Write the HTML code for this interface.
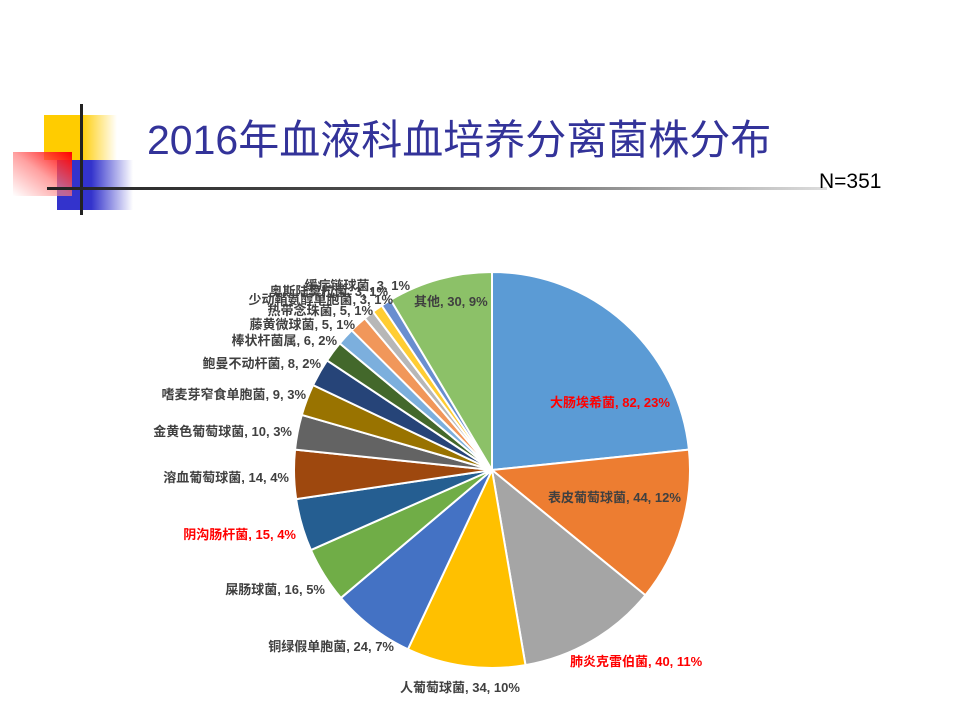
<!DOCTYPE html>
<html><head><meta charset="utf-8"><style>
body{margin:0;width:960px;height:720px;background:#fff;overflow:hidden;position:relative;font-family:"Liberation Sans","Noto Sans CJK SC",sans-serif}
</style></head><body>
<div>
<div style="position:absolute;left:44px;top:115px;width:73px;height:45px;background:linear-gradient(to right,#FFCC00 0%,#FFCC00 50%,rgba(255,204,0,0) 100%)"></div>
<div style="position:absolute;left:57px;top:160px;width:76px;height:50px;background:linear-gradient(to right,#3333CC 0%,#3333CC 45%,rgba(51,51,204,0) 100%)"></div>
<div style="position:absolute;left:13px;top:152px;width:59px;height:44px;background:linear-gradient(to bottom left,#FF0000 0%,rgba(255,120,120,0.7) 50%,rgba(255,255,255,0.4) 100%)"></div>
<div style="position:absolute;left:80px;top:104px;width:3px;height:111px;background:#222"></div>
<div style="position:absolute;left:47px;top:187px;width:780px;height:3px;background:linear-gradient(to right,#222,#555 50%,#ddd)"></div>
</div>
<div style="position:absolute;left:147px;top:106px;font-size:41px;color:#333399;font-family:'Liberation Sans','Noto Sans CJK SC',sans-serif;white-space:nowrap">2016年血液科血培养分离菌株分布</div>
<div style="position:absolute;left:819px;top:170px;font-size:21px;color:#000">N=351</div>
<svg id="pie" width="960" height="720" style="position:absolute;left:0;top:0"></svg>
<script>
const categories=["大肠埃希菌","表皮葡萄球菌","肺炎克雷伯菌","人葡萄球菌","铜绿假单胞菌","屎肠球菌","阴沟肠杆菌","溶血葡萄球菌","金黄色葡萄球菌","嗜麦芽窄食单胞菌","鲍曼不动杆菌","棒状杆菌属","藤黄微球菌","热带念珠菌","少动鞘氨醇单胞菌","奥斯陆莫拉菌","缓症链球菌","其他"];
const counts=[82,44,40,34,24,16,15,14,10,9,8,6,5,5,3,3,3,30];
const percents=["23%","12%","11%","10%","7%","5%","4%","4%","3%","3%","2%","2%","1%","1%","1%","1%","1%","9%"];
const highlighted=[true,false,true,false,false,false,true,false,false,false,false,false,false,false,false,false,false,false];
const colors=["#5B9BD5","#ED7D31","#A5A5A5","#FFC000","#4472C4","#70AD47","#255E91","#9E480E","#636363","#997300","#264478","#43682B","#7CAFDD","#F1975A","#B7B7B7","#FFCD33","#698ED0","#8CC168"];
// label layout anchors [x, y, anchor]
const labelLayout=[[550,407,"start"],[548,502,"start"],[570,666,"start"],[400,692,"start"],[394,651,"end"],[325,594,"end"],[296,539,"end"],[289,482,"end"],[292,436,"end"],[306,399,"end"],[321,368,"end"],[337,345,"end"],[355,329,"end"],[373,315,"end"],[393,304,"end"],[388,296,"end"],[410,290,"end"],[414,306,"start"]];
const svg=document.getElementById('pie');
const NS="http://www.w3.org/2000/svg";
const cx=492,cy=470,r=198;
const total=counts.reduce((a,b)=>a+b,0);
function angle(v){return v/total*Math.PI*2;}
function pt(a,rad){return [cx+rad*Math.sin(a),cy-rad*Math.cos(a)];}
let a0=0;
counts.forEach((v,i)=>{
  const a1=a0+angle(v);
  const p0=pt(a0,r),p1=pt(a1,r);
  const large=(a1-a0)>Math.PI?1:0;
  const path=document.createElementNS(NS,'path');
  path.setAttribute('d',`M${cx},${cy} L${p0[0]},${p0[1]} A${r},${r} 0 ${large} 1 ${p1[0]},${p1[1]} Z`);
  path.setAttribute('fill',colors[i]);
  path.setAttribute('stroke','#fff');
  path.setAttribute('stroke-width','2');
  
  
  svg.appendChild(path);
  a0=a1;
});
counts.forEach((v,i)=>{
  const L=labelLayout[i];
  const t=document.createElementNS(NS,'text');
  t.setAttribute('x',L[0]);t.setAttribute('y',L[1]);
  t.setAttribute('text-anchor',L[2]);
  t.setAttribute('font-size','13');
  t.setAttribute('font-weight','bold');
  t.setAttribute('font-family','"Liberation Sans","Noto Sans CJK SC",sans-serif');
  t.setAttribute('fill',highlighted[i]?'#FF0000':'#404040');
  t.textContent=categories[i]+', '+v+', '+percents[i];
  
  
  svg.appendChild(t);
});
</script>
</body></html>
